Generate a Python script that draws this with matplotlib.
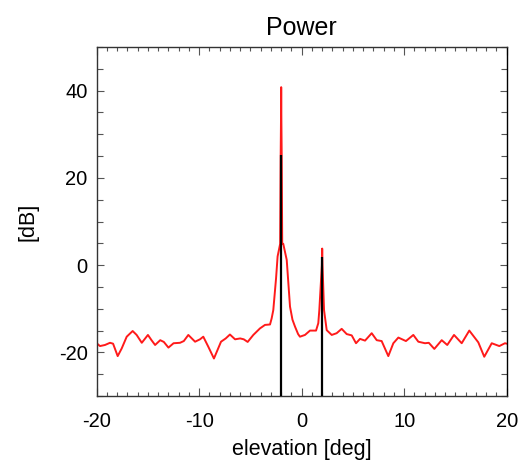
import matplotlib
matplotlib.use("Agg")
import matplotlib.pyplot as plt
from matplotlib.ticker import MultipleLocator

# Power curve (elevation in deg, power in dB)
elev = [-20.0, -19.68, -19.19, -18.7, -18.4, -17.95, -17.56, -17.07, -16.49, -16.1,
        -15.6, -15.0, -14.65, -14.3, -13.8, -13.45, -13.0, -12.5, -11.87, -11.5,
        -11.06, -10.4, -9.92, -9.6, -9.11, -8.56, -7.87, -7.41, -7.0, -6.5,
        -6.0, -5.65, -5.27, -4.72, -4.07, -3.58, -3.09, -2.93, -2.77, -2.5,
        -2.35, -2.1, -2.05, -2.02, -2.0, -1.98, -1.95, -1.9, -1.8, -1.46,
        -1.14, -0.9, -0.65, -0.35, -0.17, 0.32, 0.81, 1.40, 1.62, 1.72,
        1.97, 2.0, 2.03, 2.18, 2.44, 2.93, 3.41, 3.9, 4.39, 4.88,
        5.3, 5.69, 6.18, 6.83, 7.32, 7.8, 8.45, 8.94, 9.43, 10.17,
        10.89, 11.38, 12.03, 12.4, 12.94, 13.66, 14.2, 14.86, 15.61, 16.35,
        17.23, 17.81, 18.54, 19.28, 19.83, 20.0]
power = [-17.9, -18.55, -18.3, -17.8, -18.0, -20.85, -19.1, -16.4, -15.1, -16.0,
         -17.8, -16.0, -17.2, -18.3, -17.2, -17.6, -18.9, -17.9, -17.8, -17.4,
         -16.0, -17.55, -17.0, -16.4, -18.7, -21.4, -17.55, -16.8, -15.9, -17.0,
         -16.8, -17.0, -17.6, -16.0, -14.5, -13.7, -13.6, -12.2, -10.3, -3.0,
         2.0, 4.9, 25.0, 33.0, 40.8, 33.0, 25.0, 4.9, 4.9, 1.2,
         -9.5, -12.5, -14.1, -15.8, -16.4, -16.0, -15.0, -15.0, -13.3, -10.3,
         0.0, 3.8, 0.0, -10.3, -14.9, -16.0, -15.6, -14.6, -15.8, -16.1,
         -17.9, -16.9, -17.3, -15.6, -17.2, -17.4, -20.85, -17.9, -16.6, -17.4,
         -16.0, -17.55, -17.9, -17.8, -19.2, -17.2, -18.3, -16.0, -17.9, -15.0,
         -17.7, -21.0, -17.9, -18.55, -17.9, -18.0]

# Source markers (black vertical lines)
src_elev = [-2.0, 2.0]
src_power = [25.3, 1.8]

plt.rcParams['font.family'] = ['Liberation Sans', 'DejaVu Sans']
plt.rcParams['axes.unicode_minus'] = False

fig = plt.figure(figsize=(5.22, 4.68), dpi=100)
ax = fig.add_axes([0.1852, 0.1538, 0.7855, 0.7457])

ax.plot(elev, power, color='#ff1a1a', lw=1.4, zorder=2,
        solid_joinstyle='round', solid_capstyle='round')
ax.vlines(src_elev, -30, src_power, color='black', lw=1.6, zorder=3)

ax.set_xlim(-20, 20)
ax.set_ylim(-30, 50)
ax.xaxis.set_major_locator(MultipleLocator(10))
ax.xaxis.set_minor_locator(MultipleLocator(1))
ax.yaxis.set_major_locator(MultipleLocator(20))
ax.yaxis.set_minor_locator(MultipleLocator(5))

ax.tick_params(axis='both', which='both', direction='in', top=True, right=True,
               color='#555555', width=0.8)
ax.tick_params(axis='x', which='major', length=6, pad=11.5, labelsize=14.5)
ax.tick_params(axis='x', which='minor', length=3)
ax.tick_params(axis='y', which='major', length=5, pad=6.5, labelsize=14.5)
ax.tick_params(axis='y', which='minor', length=4)

for side, sp in ax.spines.items():
    sp.set_color('#333333' if side != 'right' else 'black')
    sp.set_linewidth(1.0)

ax.set_title('Power', fontsize=18, pad=9)
ax.set_xlabel('elevation [deg]', fontsize=15.5)
ax.set_ylabel('[dB]', fontsize=15.5)
ax.xaxis.set_label_coords(0.5, -0.122)
ax.yaxis.set_label_coords(-0.142, 0.5)

fig.savefig('out.png', dpi=100)
